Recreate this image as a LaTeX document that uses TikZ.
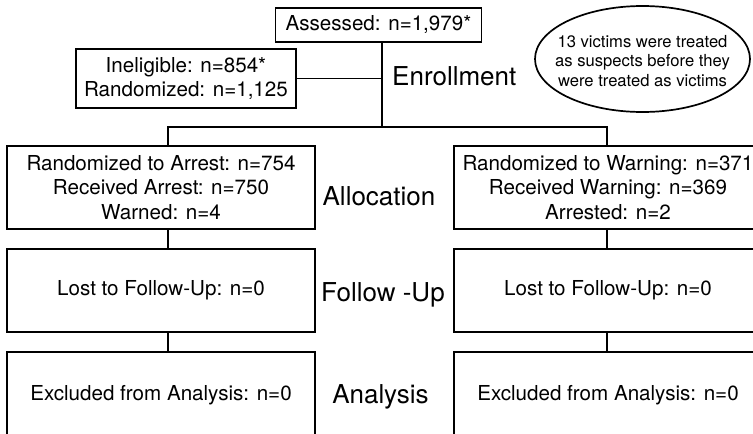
\documentclass[tikz,border=0pt]{standalone}
\usepackage{fontspec}
\setmainfont{TeX Gyre Heros}
\begin{document}
\begin{tikzpicture}[x=1pt,y=-1pt,
  box/.style={draw, line width=1.7pt, inner sep=0pt, align=center, font=\fontsize{20.6}{24.8}\selectfont},
  stage/.style={inner sep=0pt, font=\fontsize{26}{30}\selectfont},
  conn/.style={line width=1.7pt}]
\clip (0,0) rectangle (753,434);
\fill[white] (0,0) rectangle (753,434);
% enrollment
\node[box, minimum width=206pt, minimum height=34pt] (assess) at (378.5,25) {Assessed: n=1,979*};
\node[box, minimum width=220pt, minimum height=59pt] (inel) at (186,78.5) {Ineligible: n=854*\\Randomized: n=1,125};
\node[stage, anchor=base west] (enrol) at (392,85) {Enrollment};
\node[inner sep=0pt, align=center, font=\fontsize{16.6}{19.5}\selectfont] (note) at (642.5,61) {13 victims were treated\\as suspects before they\\were treated as victims};
\draw[conn] (642.5,59) ellipse [x radius=107.5pt, y radius=53pt];
% columns
\node[box, minimum width=308pt, minimum height=83pt] (la) at (161,187.5) {Randomized to Arrest: n=754\\Received Arrest: n=750\\Warned: n=4};
\node[box, minimum width=308pt, minimum height=83pt] (ra) at (608,187.5) {Randomized to Warning: n=371\\Received Warning: n=369\\Arrested: n=2};
\node[box, minimum width=308pt, minimum height=83pt] (lf) at (161,290.5) {Lost to Follow-Up: n=0};
\node[box, minimum width=308pt, minimum height=83pt] (rf) at (608,290.5) {Lost to Follow-Up: n=0};
\node[box, minimum width=308pt, minimum height=86pt] (lx) at (161,395) {Excluded from Analysis: n=0};
\node[box, minimum width=308pt, minimum height=86pt] (rx) at (608,395) {Excluded from Analysis: n=0};
% stage labels
\node[stage, anchor=base] (alloc) at (379,205) {Allocation};
\node[stage, anchor=base] (follow) at (383,301.5) {Follow -Up};
\node[stage, anchor=base] (anal) at (380.5,403) {Analysis};
% connectors
\coordinate (trunk) at (382,127);
\coordinate (bl) at (168,127);
\coordinate (br) at (607,127);
\draw[conn] (assess.south -| trunk) -- (trunk);
\draw[conn] (inel.east) -- (inel.east -| trunk);
\draw[conn] (la.north -| bl) -- (bl) -- (br) -- (ra.north -| br);
\draw[conn] (la.south -| bl) -- (lf.north -| bl);
\draw[conn] (lf.south -| bl) -- (lx.north -| bl);
\draw[conn] (ra.south -| br) -- (rf.north -| br);
\draw[conn] (rf.south -| br) -- (rx.north -| br);
\end{tikzpicture}
\end{document}
